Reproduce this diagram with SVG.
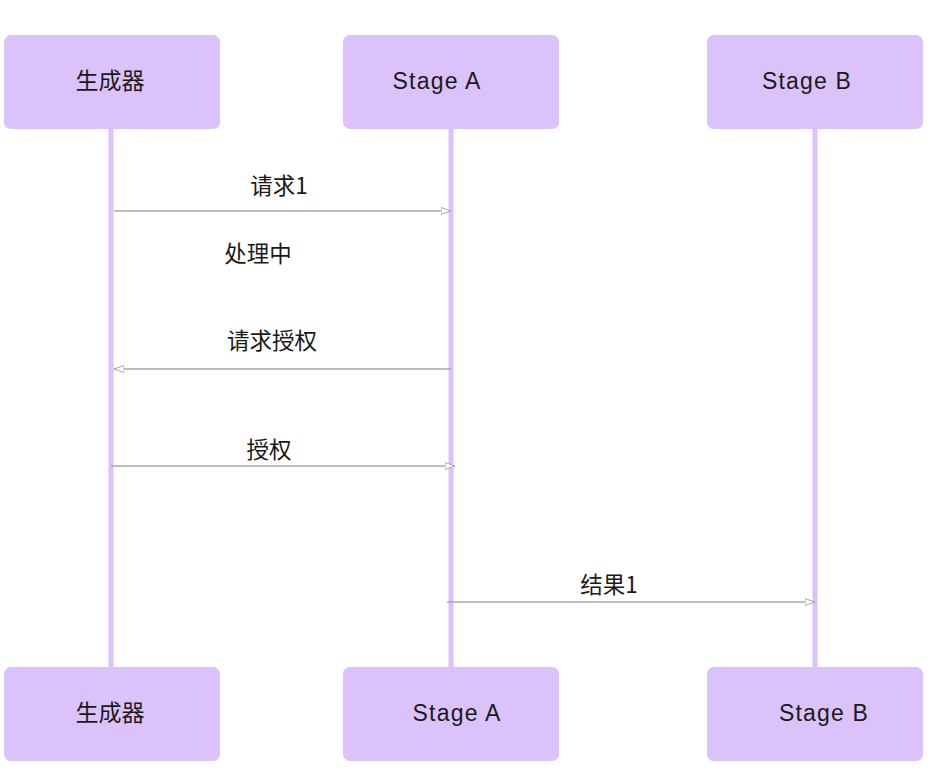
<svg xmlns="http://www.w3.org/2000/svg" width="943" height="772" viewBox="0 0 943 772">
<style>
.box{fill:#dcc2fb;}
.life{stroke:#dcc2fb;stroke-width:5;fill:none;}
.t{font-family:"Liberation Sans","Noto Sans CJK SC",sans-serif;font-size:23px;fill:#1a1a1a;text-anchor:middle;}
.st{letter-spacing:1.2px;}
.lbl{font-family:"Noto Sans CJK SC","Liberation Sans",sans-serif;font-size:22.5px;fill:#1a1a1a;text-anchor:middle;}
.msg{stroke:#a8a8a8;stroke-width:1.5;fill:none;marker-end:url(#ah);}
</style>
<defs>
<marker id="ah" viewBox="0 0 10 8" refX="10" refY="4" markerWidth="10" markerHeight="8" markerUnits="userSpaceOnUse" orient="auto">
<path d="M0,0.5 L10,4 L0,7.5 Z" fill="#fff" stroke="#a8a8a8" stroke-width="1"/>
</marker>
</defs>
<rect width="943" height="772" fill="#fff"/>
<g id="lifelines">
<line class="life" x1="111" y1="128" x2="111" y2="668"/>
<line class="life" x1="451" y1="128" x2="451" y2="668"/>
<line class="life" x1="815" y1="128" x2="815" y2="668"/>
</g>
<g id="gen-top"><rect class="box" x="4" y="35" width="216" height="94" rx="7"/><text class="t" x="110" y="89">生成器</text></g>
<g id="stagea-top"><rect class="box" x="343" y="35" width="216" height="94" rx="7"/><text class="t st" x="437" y="89">Stage A</text></g>
<g id="stageb-top"><rect class="box" x="707" y="35" width="216" height="94" rx="7"/><text class="t st" x="807" y="89">Stage B</text></g>
<g id="gen-bottom"><rect class="box" x="4" y="667" width="216" height="94" rx="7"/><text class="t" x="110" y="721">生成器</text></g>
<g id="stagea-bottom"><rect class="box" x="343" y="667" width="216" height="94" rx="7"/><text class="t st" x="457" y="721">Stage A</text></g>
<g id="stageb-bottom"><rect class="box" x="707" y="667" width="216" height="94" rx="7"/><text class="t st" x="824" y="721">Stage B</text></g>
<g id="connectors">
<line class="msg" x1="114" y1="211" x2="451" y2="211"/>
<line class="msg" x1="451" y1="369" x2="114" y2="369"/>
<line class="msg" x1="111" y1="466" x2="455" y2="466"/>
<line class="msg" x1="447" y1="602" x2="815" y2="602"/>
</g>
<g id="labels">
<text class="lbl" x="279" y="194">请求1</text>
<text class="lbl" x="258" y="262">处理中</text>
<text class="lbl" x="272" y="349">请求授权</text>
<text class="lbl" x="269" y="458">授权</text>
<text class="lbl" x="609" y="593">结果1</text>
</g>
</svg>
